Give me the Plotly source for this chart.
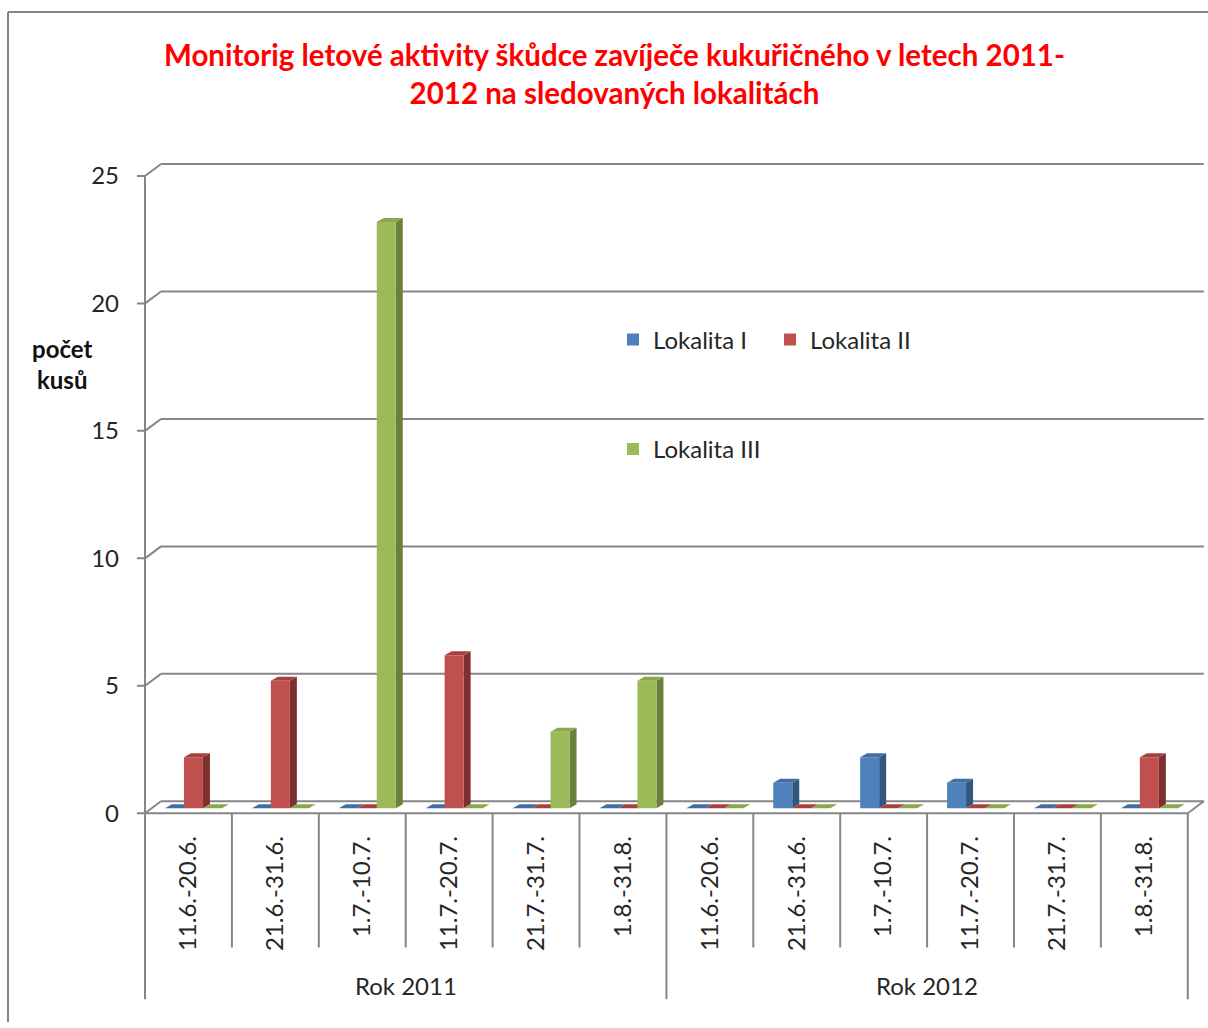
import plotly.graph_objects as go

# ---- data -------------------------------------------------------------
periods = ["11.6.-20.6.", "21.6.-31.6.", "1.7.-10.7.", "11.7.-20.7.", "21.7.-31.7.", "1.8.-31.8."]
years = ["Rok 2011", "Rok 2012"]
categories = periods + periods

series_names = ["Lokalita I", "Lokalita II", "Lokalita III"]
lokalita_1 = [0, 0, 0, 0, 0, 0, 0, 1, 2, 1, 0, 0]
lokalita_2 = [2, 5, 0, 6, 0, 0, 0, 0, 0, 0, 0, 2]
lokalita_3 = [0, 0, 23, 0, 3, 5, 0, 0, 0, 0, 0, 0]
series_values = [lokalita_1, lokalita_2, lokalita_3]

y_ticks = [0, 5, 10, 15, 20, 25]

title_text = ("Monitorig letové aktivity škůdce zavíječe kukuřičného v letech 2011-<br>"
              "2012 na sledovaných lokalitách")
y_title = "<b>počet<br>kusů</b>"

# ---- styling ----------------------------------------------------------
W, H = 1208, 1028
FONT = "Lato"
FS = 24
TEXT = "#262626"
GRID = "#868686"
front_col = ["#4F81BD", "#C0504D", "#9BBB59"]
side_col = ["#34567F", "#7E302E", "#6A803C"]
top_col = ["#416FA3", "#A8403D", "#88A84A"]

# pixel layout of the plotting box
AXIS_X_PX = 145          # front vertical axis
ZERO_Y_PX = 818          # front edge of the floor
PITCH_X = 86.9           # px per category
PITCH_Y = 25.64          # px per count unit
X_RANGE = [-0.7, 11.72]
Y_RANGE = [-0.3, 26.0]

x_dom_px = [AXIS_X_PX + (X_RANGE[0] + 0.5) * PITCH_X, AXIS_X_PX + (X_RANGE[1] + 0.5) * PITCH_X]
y_dom_px = [ZERO_Y_PX - Y_RANGE[0] * PITCH_Y, ZERO_Y_PX - Y_RANGE[1] * PITCH_Y]
x_domain = [x_dom_px[0] / W, min(x_dom_px[1] / W, 1.0)]
y_domain = [(H - y_dom_px[0]) / H, (H - y_dom_px[1]) / H]


def dx(px):
    return px / PITCH_X


def dy(px):
    return px / PITCH_Y


def py(px):
    """pixel row -> paper y"""
    return (H - px) / H


def pxx(px):
    """pixel column -> paper x"""
    return px / W


wall_dx, wall_dy = dx(16), dy(12)
bar_w = dx(19)
bar_shift = dx(5)
bar_base = dy(5)
side_dx, side_dy = dx(7), dy(4)

n = len(categories)
x_idx = list(range(n))

fig = go.Figure()
shapes = []

line = dict(color=GRID, width=2)

# back wall gridlines with the slanted left wall segment
for t in y_ticks:
    shapes.append(dict(type="line", xref="x", yref="y",
                       x0=-0.5 + wall_dx, x1=n - 0.5 + wall_dx, y0=t + wall_dy, y1=t + wall_dy,
                       line=line, layer="below"))
    shapes.append(dict(type="line", xref="x", yref="y",
                       x0=-0.5, x1=-0.5 + wall_dx, y0=t, y1=t + wall_dy,
                       line=line, layer="below"))
    # tick mark on the front axis
    shapes.append(dict(type="line", xref="x", yref="y",
                       x0=-0.5 - dx(8), x1=-0.5, y0=t, y1=t, line=line, layer="below"))

# front axis, floor edges
shapes.append(dict(type="line", xref="x", yref="y", x0=-0.5, x1=-0.5, y0=0, y1=max(y_ticks),
                   line=line, layer="below"))
shapes.append(dict(type="line", xref="x", yref="y", x0=-0.5, x1=n - 0.5, y0=0, y1=0,
                   line=line, layer="below"))
shapes.append(dict(type="line", xref="x", yref="y", x0=n - 0.5, x1=n - 0.5 + wall_dx, y0=0, y1=wall_dy,
                   line=line, layer="below"))

# blank area behind the legend
shapes.append(dict(type="rect", xref="paper", yref="paper",
                   x0=pxx(615), x1=pxx(932), y0=py(480), y1=py(282),
                   fillcolor="white", line=dict(width=0), layer="below"))

# category dividers below the floor
for i in range(n + 1):
    xb = i - 0.5
    long_div = i % len(periods) == 0
    shapes.append(dict(type="line", xref="x", yref="paper", x0=xb, x1=xb,
                       y0=py(ZERO_Y_PX), y1=py(1005 if long_div else 953),
                       line=line, layer="below"))

# columns: front faces as bars, side and top faces as shapes
for k, (name, vals) in enumerate(zip(series_names, series_values)):
    off = bar_shift + (k - 1) * bar_w - bar_w / 2
    fig.add_trace(go.Bar(
        x=x_idx, y=vals, base=bar_base, offset=off, width=bar_w,
        name=name, marker=dict(color=front_col[k], line=dict(width=0)),
        legend=["legend", "legend2", "legend3"][k],
        hovertemplate="%{customdata}: %{y}<extra>" + name + "</extra>",
        customdata=categories,
    ))
    for i, v in enumerate(vals):
        xl = i + off
        xr = xl + bar_w
        top = bar_base + v
        if v > 0:
            shapes.append(dict(
                type="path", xref="x", yref="y", layer="below",
                path=(f"M{xr},{bar_base} L{xr + side_dx},{bar_base + side_dy} "
                      f"L{xr + side_dx},{top + side_dy} L{xr},{top} Z"),
                fillcolor=side_col[k], line=dict(width=0)))
        shapes.append(dict(
            type="path", xref="x", yref="y", layer="below",
            path=(f"M{xl},{top} L{xr},{top} L{xr + side_dx},{top + side_dy} "
                  f"L{xl + side_dx},{top + side_dy} Z"),
            fillcolor=top_col[k], line=dict(width=0)))

# outer chart frame
shapes.append(dict(type="line", xref="paper", yref="paper", x0=pxx(8), x1=pxx(8), y0=0, y1=py(12),
                   line=line, layer="below"))
shapes.append(dict(type="line", xref="paper", yref="paper", x0=pxx(8), x1=1, y0=py(12), y1=py(12),
                   line=line, layer="below"))

annotations = [
    dict(text=title_text, xref="paper", yref="paper", x=pxx(614), y=py(74),
         xanchor="center", yanchor="middle", showarrow=False,
         font=dict(family=FONT, size=29.5, color="#FF0000", weight="bold")),
    dict(text=y_title, xref="paper", yref="paper", x=pxx(62), y=py(366),
         xanchor="center", yanchor="middle", showarrow=False,
         font=dict(family=FONT, size=FS, color="#111111")),
]
for j, yr in enumerate(years):
    annotations.append(dict(
        text=yr, xref="x", yref="paper", x=j * len(periods) + (len(periods) - 1) / 2, y=py(991),
        xanchor="center", yanchor="middle", showarrow=False,
        font=dict(family=FONT, size=FS, color=TEXT)))

legend_style = dict(orientation="h", bgcolor="rgba(0,0,0,0)", xanchor="left", yanchor="middle",
                    font=dict(family=FONT, size=FS, color=TEXT))

fig.update_layout(
    width=W, height=H,
    margin=dict(l=0, r=0, t=0, b=0),
    paper_bgcolor="white", plot_bgcolor="rgba(0,0,0,0)",
    showlegend=True,
    legend=dict(x=pxx(613), y=py(342), **legend_style),
    legend2=dict(x=pxx(770), y=py(342), **legend_style),
    legend3=dict(x=pxx(613), y=py(452), **legend_style),
    barmode="overlay",
    shapes=shapes,
    annotations=annotations,
    xaxis=dict(domain=x_domain, range=X_RANGE, anchor="free", position=py(ZERO_Y_PX),
               tickvals=x_idx, ticktext=categories, tickangle=-90, ticks="",
               ticklabelstandoff=17,
               showgrid=False, zeroline=False, showline=False,
               tickfont=dict(family=FONT, size=FS, color=TEXT)),
    yaxis=dict(domain=y_domain, range=Y_RANGE, anchor="free", position=pxx(AXIS_X_PX),
               tickvals=y_ticks, ticks="", ticklabelstandoff=26,
               showgrid=False, zeroline=False, showline=False,
               tickfont=dict(family=FONT, size=FS, color=TEXT)),
)

fig.write_html("out.html")
